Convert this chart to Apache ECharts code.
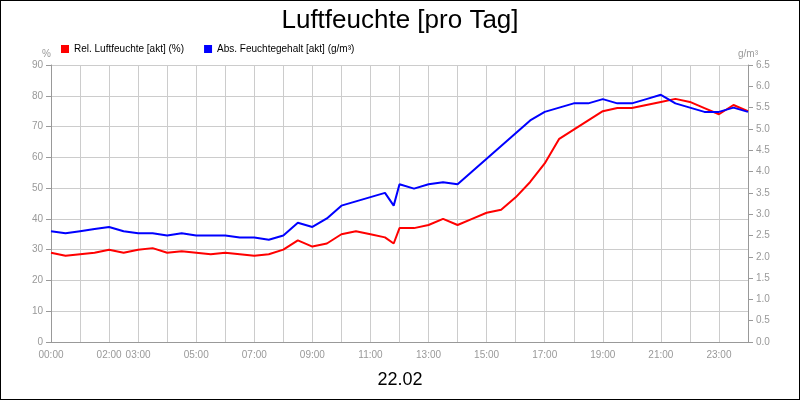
<!DOCTYPE html><html><head><meta charset="utf-8"><script src="https://cdn.jsdelivr.net/npm/echarts@6/dist/echarts.min.js"></script>
<style>body{margin:0}#c{width:798px;height:398px;border:1px solid #000}</style></head><body><div id="c"></div><script>
const hours=[0,0.5,1,1.5,2,2.5,3,3.5,4,4.5,5,5.5,6,6.5,7,7.5,8,8.5,9,9.5,10,10.5,11,11.5,11.8,12,12.5,13,13.5,14,14.5,15,15.5,16,16.5,17,17.5,18,18.5,19,19.5,20,20.5,21,21.5,22,22.5,23,23.5,24];
const relHum=[29,28,28.5,29,30,29,30,30.5,29,29.5,29,28.5,29,28.5,28,28.5,30,33,31,32,35,36,35,34,32,37,37,38,40,38,40,42,43,47,52,58,66,69,72,75,76,76,77,78,79,78,76,74,77,75,76];
const absHum=[2.6,2.55,2.6,2.65,2.7,2.6,2.55,2.55,2.5,2.55,2.5,2.5,2.5,2.45,2.45,2.4,2.5,2.8,2.7,2.9,3.2,3.3,3.4,3.5,3.2,3.7,3.6,3.7,3.75,3.7,4.0,4.3,4.6,4.9,5.2,5.4,5.5,5.6,5.6,5.7,5.6,5.6,5.7,5.8,5.6,5.5,5.4,5.4,5.5,5.4];
const tickHours=[0,2,3,5,7,9,11,13,15,17,19,21,23];
const pad=h=>String(h).padStart(2,'0')+':00';
const ch=echarts.init(document.getElementById('c'));
ch.setOption({backgroundColor:'#fff',animation:false,
title:[{text:'Luftfeuchte [pro Tag]',left:'center',top:2,textStyle:{fontSize:26,fontWeight:'normal',color:'#000',fontFamily:'Liberation Sans'}},
{text:'22.02',left:'center',top:365,textStyle:{fontSize:18,fontWeight:'normal',color:'#000',fontFamily:'Liberation Sans'}}],
legend:{left:55,top:38,itemWidth:8,itemHeight:8,itemGap:20,icon:'rect',textStyle:{fontSize:10,color:'#000',fontFamily:'Liberation Sans'},data:['Rel. Luftfeuchte [akt] (%)','Abs. Feuchtegehalt [akt] (g/m³)']},
grid:{left:50,right:51,top:64,bottom:57},
xAxis:{type:'value',min:0,max:24,interval:1,axisLine:{lineStyle:{color:'#999'}},axisTick:{show:false},splitLine:{lineStyle:{color:'#ccc'}},
axisLabel:{color:'#999',fontSize:10,showMaxLabel:false,formatter:v=>tickHours.includes(v)?pad(v):''}},
yAxis:[{type:'value',min:0,max:90,interval:10,name:'%',nameGap:6,nameTextStyle:{color:'#999',fontSize:10,align:'right'},axisLine:{show:true,lineStyle:{color:'#999'}},axisLabel:{color:'#999',fontSize:10},splitLine:{lineStyle:{color:'#ccc'}}},
{type:'value',min:0,max:6.5,interval:0.5,name:'g/m³',nameGap:6,nameTextStyle:{color:'#999',fontSize:10},axisLine:{show:true,lineStyle:{color:'#999'}},axisLabel:{color:'#999',fontSize:10,formatter:v=>v.toFixed(1)},splitLine:{show:false}}],
series:[{name:'Rel. Luftfeuchte [akt] (%)',type:'line',showSymbol:false,color:'#ff0000',lineStyle:{width:2},data:hours.map((h,i)=>[h,relHum[i]])},
{name:'Abs. Feuchtegehalt [akt] (g/m³)',type:'line',yAxisIndex:1,showSymbol:false,color:'#0000ff',lineStyle:{width:2},data:hours.map((h,i)=>[h,absHum[i]])}]});
</script></body></html>
